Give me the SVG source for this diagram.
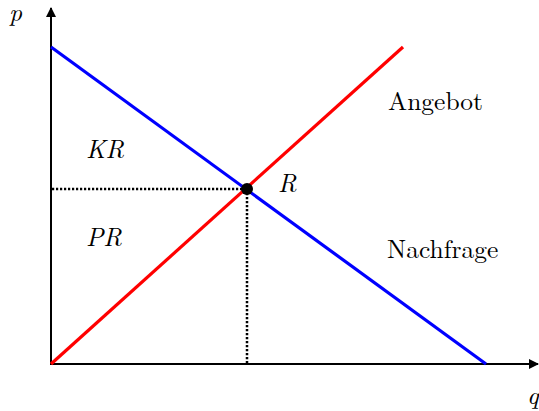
<svg xmlns="http://www.w3.org/2000/svg" width="539" height="411" viewBox="0 0 539 411">
<style>
.ax{stroke:#000;stroke-width:2;fill:none}
.dot{stroke:#000;stroke-width:2.5;stroke-dasharray:2.2 1.8;fill:none}
text{font-family:'Latin Modern Roman','Liberation Serif',serif;font-size:25.5px;fill:#000}
.i{font-style:italic}
</style>
<defs>
<marker id="ah" viewBox="0 0 10 10" refX="9" refY="5" markerWidth="5" markerHeight="5" orient="auto" markerUnits="strokeWidth">
<path d="M0,0 L10,5 L0,10 z" fill="#000"/>
</marker>
</defs>
<g id="connectors">
<line class="ax" x1="51" y1="365" x2="51" y2="8" marker-end="url(#ah)"/>
<line class="ax" x1="50" y1="364" x2="538" y2="364" marker-end="url(#ah)"/>
<line class="dot" x1="52" y1="189" x2="247" y2="189"/>
<line class="dot" x1="247" y1="189" x2="247" y2="363"/>
<line id="nachfrage-line" x1="51" y1="47" x2="486" y2="364" stroke="#0000ff" stroke-width="3.2"/>
<line id="angebot-line" x1="51" y1="364" x2="403" y2="47" stroke="#ff0000" stroke-width="3.2"/>
</g>
<g id="R-node">
<circle cx="247" cy="189" r="6" fill="#000"/>
<text class="i" x="278" y="192">R</text>
</g>
<g id="labels">
<text class="i" x="9" y="21">p</text>
<text class="i" x="527" y="404">q</text>
<text x="388" y="110">Angebot</text>
<text x="387" y="258">Nachfrage</text>
<text class="i" x="86" y="158">KR</text>
<text class="i" x="86" y="246">PR</text>
</g>
</svg>
